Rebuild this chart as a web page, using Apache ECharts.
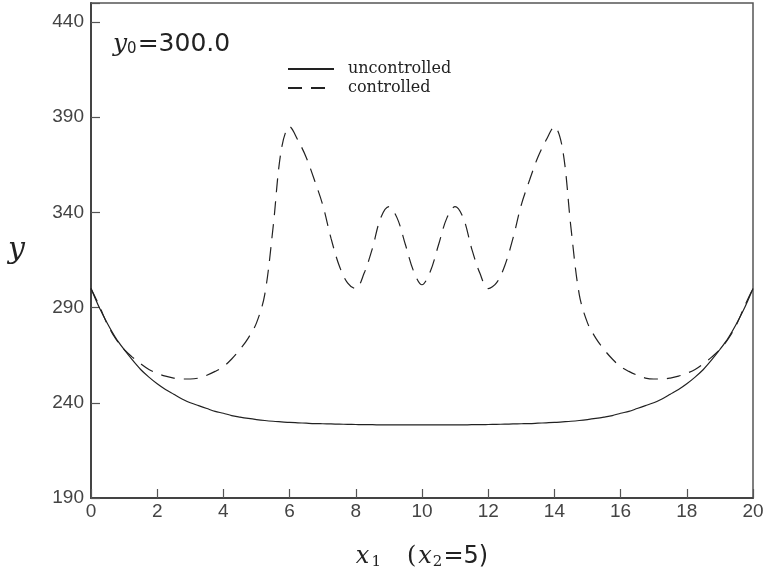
<!DOCTYPE html>
<html>
<head>
<meta charset="utf-8">
<script src="https://cdn.jsdelivr.net/npm/echarts@6/dist/echarts.min.js"></script>
<style>
  html, body { margin: 0; padding: 0; background: #fff; }
  #chart1 { width: 767px; height: 575px; }
</style>
</head>
<body>
<div id="chart1"></div>
<script>
var xValues = [
  0, 0.25, 0.5, 0.75, 1, 1.25, 1.5, 1.75, 2, 2.25, 2.5, 2.75, 3, 3.25, 3.5, 3.75, 4, 4.25, 4.5, 4.75,
  5, 5.25, 5.5, 5.75, 6, 6.25, 6.5, 6.75, 7, 7.25, 7.5, 7.75, 8, 8.25, 8.5, 8.75, 9, 9.25, 9.5, 9.75,
  10, 10.25, 10.5, 10.75, 11, 11.25, 11.5, 11.75, 12, 12.25, 12.5, 12.75, 13, 13.25, 13.5, 13.75, 14, 14.25, 14.5, 14.75,
  15, 15.25, 15.5, 15.75, 16, 16.25, 16.5, 16.75, 17, 17.25, 17.5, 17.75, 18, 18.25, 18.5, 18.75, 19, 19.25, 19.5, 19.75, 20
];

var uncontrolled = [
  300, 290, 281.5, 274, 268, 262.5, 257.5, 253.5, 250, 247, 244.5, 242, 240, 238.5, 237, 235.5, 234.5, 233.3, 232.5, 231.8,
  231.2, 230.7, 230.3, 230, 229.7, 229.5, 229.3, 229.1, 229, 228.9, 228.8, 228.7, 228.6, 228.5, 228.5, 228.4, 228.4, 228.4, 228.4, 228.4,
  228.4, 228.4, 228.4, 228.4, 228.4, 228.4, 228.5, 228.5, 228.6, 228.7, 228.8, 228.9, 229, 229.1, 229.3, 229.5, 229.7, 230, 230.3, 230.7,
  231.2, 231.8, 232.5, 233.3, 234.5, 235.5, 237, 238.5, 240, 242, 244.5, 247, 250, 253.5, 257.5, 262.5, 268, 274, 281.5, 290, 300
];

var controlled = [
  300, 291, 281, 273.5, 268, 264, 260.5, 257.5, 255.5, 254, 253, 252.5, 252.5, 253, 254.5, 256.5, 259, 263, 268, 274,
  282, 297, 332, 373, 385, 378, 369, 357, 344, 326.5, 312, 303, 300, 308, 321, 337, 343, 337, 323, 309,
  302, 309, 323, 337, 343, 337, 321, 308, 300, 303, 312, 326.5, 344, 357, 369, 378, 385, 373, 332, 297,
  282, 274, 268, 263, 259, 256.5, 254.5, 253, 252.5, 252.5, 253, 254, 255.5, 257.5, 260.5, 264, 268, 273.5, 281, 291, 300
];

var yTicks = [190, 240, 290, 340, 390, 440];
var xTicks = [0, 2, 4, 6, 8, 10, 12, 14, 16, 18, 20];

var dom = document.getElementById("chart1");
var myChart = echarts.init(dom);

function pairs(ys) {
  return xValues.map(function (x, i) { return [x, ys[i]]; });
}

var tickFont = {
  fontFamily: 'Liberation Sans',
  fontSize: 19,
  color: '#444'
};

option = {
  backgroundColor: '#fff',
  animation: false,
  grid: {
    left: 91, right: 14, top: 3, bottom: 77,
    show: true,
    borderColor: '#555',
    borderWidth: 1.5
  },
  legend: {
    orient: 'vertical',
    left: 287,
    top: 61,
    padding: 0,
    itemWidth: 46,
    itemHeight: 14,
    itemGap: 3,
    itemStyle: { opacity: 0 },
    textStyle: { fontFamily: 'DejaVu Serif', fontSize: 16, color: '#222', padding: [0, 0, 0, 9] },
    data: ['uncontrolled', 'controlled']
  },
  xAxis: {
    type: 'value',
    min: 0, max: 20, interval: 2,
    name: '{it|x}{sub1|1}{n|(}{it|x}{sub|2}{s|=5)}',
    nameLocation: 'middle',
    nameGap: 46,
    nameTextStyle: {
      rich: {
        it: { fontFamily: 'DejaVu Serif', fontStyle: 'italic', fontSize: 24, color: '#222' },
        sub1: { fontFamily: 'DejaVu Serif', fontSize: 15, color: '#222', padding: [11, 26, 0, 2] },
        sub: { fontFamily: 'DejaVu Serif', fontSize: 15, color: '#222', padding: [11, 1, 0, 1] },
        n: { fontFamily: 'DejaVu Serif', fontSize: 24, color: '#222', padding: [0, 2, 0, 0] },
        s: { fontFamily: 'DejaVu Sans', fontSize: 24, color: '#222' }
      }
    },
    axisLine: { lineStyle: { color: '#444', width: 2 } },
    axisTick: { inside: true, length: 9, lineStyle: { color: '#555', width: 1.2 } },
    axisLabel: Object.assign({ margin: 4, formatter: function (v) {
      return xTicks.indexOf(v) >= 0 ? String(v) : '';
    } }, tickFont),
    splitLine: { show: false }
  },
  yAxis: {
    type: 'value',
    min: 190, max: 450, interval: 50,
    name: 'y',
    nameLocation: 'middle',
    nameRotate: 0,
    nameGap: 66,
    nameTextStyle: { fontFamily: 'DejaVu Serif', fontStyle: 'italic', fontSize: 30, color: '#222' },
    axisLine: { lineStyle: { color: '#444', width: 2 } },
    axisTick: { inside: true, length: 9, lineStyle: { color: '#555', width: 1.2 } },
    axisLabel: Object.assign({ margin: 7, formatter: function (v) {
      return yTicks.indexOf(v) >= 0 ? String(v) : '';
    } }, tickFont),
    splitLine: { show: false }
  },
  graphic: [{
    type: 'text',
    left: 113,
    top: 32,
    style: {
      text: '{it|y}{sub|0}{n|=300.0}',
      rich: {
        it: { fontFamily: 'DejaVu Serif', fontStyle: 'italic', fontSize: 25, fill: '#222' },
        sub: { fontFamily: 'DejaVu Sans', fontSize: 15, fill: '#222', padding: [9, 1, 0, 0] },
        n: { fontFamily: 'DejaVu Sans', fontSize: 25, fill: '#222' }
      }
    }
  }],
  series: [{
    name: 'uncontrolled',
    type: 'line',
    smooth: 0.3,
    symbol: 'none',
    data: pairs(uncontrolled),
    lineStyle: { color: '#222', width: 1.2 },
    itemStyle: { color: '#222' }
  }, {
    name: 'controlled',
    type: 'line',
    smooth: 0.35,
    symbol: 'none',
    data: pairs(controlled),
    lineStyle: { color: '#222', width: 1.2, type: [14, 9] },
    itemStyle: { color: '#222' }
  }]
};

if (option && typeof option === "object") {
  myChart.setOption(option, true);
}
</script>
</body>
</html>
